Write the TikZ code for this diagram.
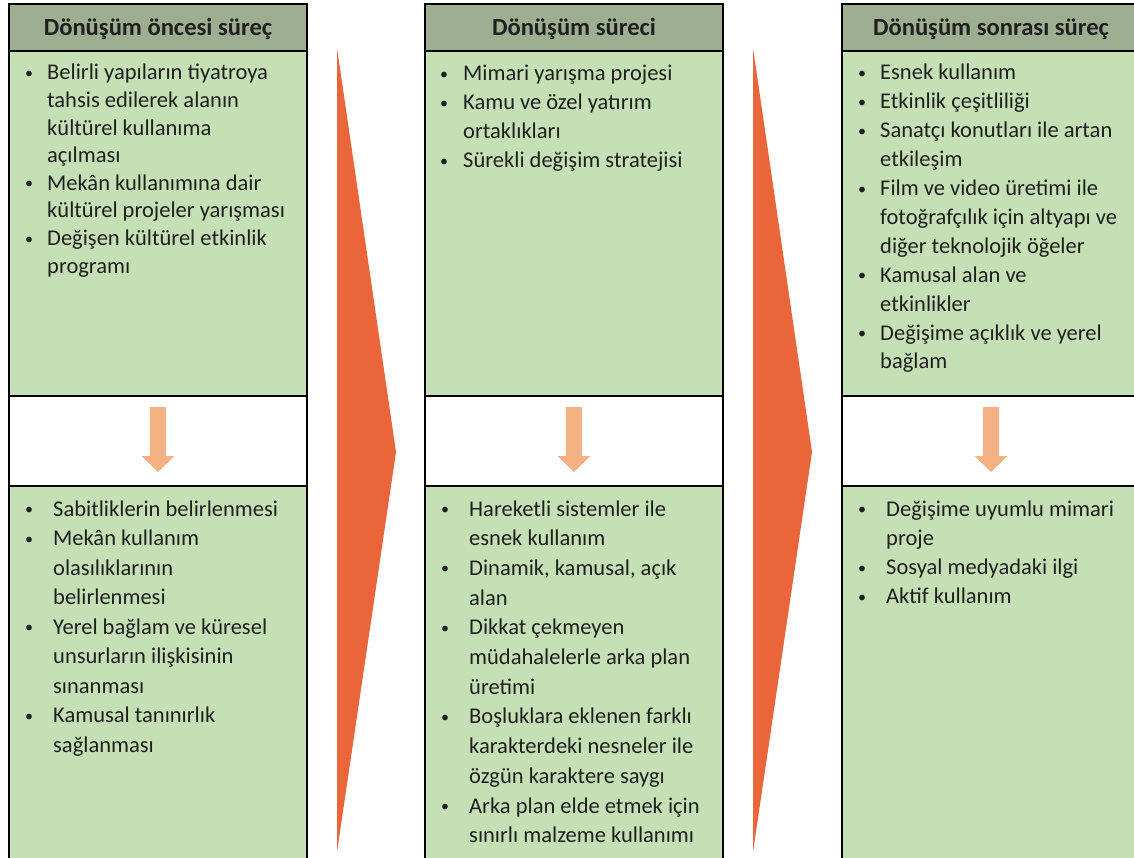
\documentclass[tikz,border=0pt]{standalone}
\usepackage{fontspec}
\setmainfont{Carlito}
\usetikzlibrary{positioning}
\definecolor{headgreen}{HTML}{9EAF91}
\definecolor{bodygreen}{HTML}{C5E0B4}
\definecolor{bigorange}{HTML}{EA653A}
\definecolor{lightorange}{HTML}{F4B183}
\newcommand{\bul}{\raisebox{1.5pt}{\fontsize{16}{16}\selectfont\textbullet}}
\tikzset{boxline/.style = {draw=black, line width=2pt},
         headtext/.style = {anchor=base, font=\fontsize{24.6}{28}\selectfont\bfseries},
         listtext/.style = {anchor=base west, align=left}}

\begin{document}
\begin{tikzpicture}[x=1pt, y=-1pt, every node/.style={inner sep=0pt, text=black!88}]
      \useasboundingbox (0,0) rectangle (1134,858);
      \clip (0,0) rectangle (1134,858);
      % three columns
      \foreach \x in {9, 425, 842} {
        \draw [boxline, fill=headgreen] (\x, 4.5) rectangle ++(298, 46.5);
        \draw [boxline, fill=bodygreen] (\x, 51) rectangle ++(298, 345);
        \draw [boxline, fill=white] (\x, 396) rectangle ++(298, 90);
        \draw [boxline, fill=bodygreen] (\x, 486) rectangle ++(298, 400);
        \fill [lightorange] (\x+141, 407) -- (\x+157, 407) -- (\x+157, 456) -- (\x+165.5, 456)
              -- (\x+149, 472) -- (\x+132.5, 456) -- (\x+141, 456) -- cycle;
      }
      % big chevrons
      \fill [bigorange] (337, 48) -- (396, 452) -- (337, 852) -- cycle;
      \fill [bigorange] (753, 48) -- (812, 452) -- (753, 852) -- cycle;
      % headers
      \node [headtext] (hdpre) at (158, 36) {Dönüşüm öncesi süreç};
      \node [headtext] (hdmid) at (574, 36) {Dönüşüm süreci};
      \node [headtext] (hdpost) at (991, 36) {Dönüşüm sonrası süreç};
      % upper lists
      \node [listtext, font=\fontsize{22.5}{27.6}\selectfont] (prea) at (25, 80) {%
        \begin{tabular}[t]{@{}p{22pt}@{}l@{}}
          \bul & Belirli yapıların tiyatroya\\
               & tahsis edilerek alanın\\
               & kültürel kullanıma\\
               & açılması\\
          \bul & Mekân kullanımına dair\\
               & kültürel projeler yarışması\\
          \bul & Değişen kültürel etkinlik\\
               & programı
        \end{tabular}};
      \node [listtext, font=\fontsize{22.5}{29.1}\selectfont] (mida) at (440, 80.7) {%
        \begin{tabular}[t]{@{}p{23pt}@{}l@{}}
          \bul & Mimari yarışma projesi\\
          \bul & Kamu ve özel yatırım\\
               & ortaklıkları\\
          \bul & Sürekli değişim stratejisi
        \end{tabular}};
      \node [listtext, font=\fontsize{22.5}{28.9}\selectfont] (posta) at (858, 80) {%
        \begin{tabular}[t]{@{}p{22pt}@{}l@{}}
          \bul & Esnek kullanım\\
          \bul & Etkinlik çeşitliliği\\
          \bul & Sanatçı konutları ile artan\\
               & etkileşim\\
          \bul & Film ve video üretimi ile\\
               & fotoğrafçılık için altyapı ve\\
               & diğer teknolojik öğeler\\
          \bul & Kamusal alan ve\\
               & etkinlikler\\
          \bul & Değişime açıklık ve yerel\\
               & bağlam
        \end{tabular}};
      % lower lists
      \node [listtext, font=\fontsize{22.5}{29.5}\selectfont] (preb) at (25, 516) {%
        \begin{tabular}[t]{@{}p{28pt}@{}l@{}}
          \bul & Sabitliklerin belirlenmesi\\
          \bul & Mekân kullanım\\
               & olasılıklarının\\
               & belirlenmesi\\
          \bul & Yerel bağlam ve küresel\\
               & unsurların ilişkisinin\\
               & sınanması\\
          \bul & Kamusal tanınırlık\\
               & sağlanması
        \end{tabular}};
      \node [listtext, font=\fontsize{22.5}{29.7}\selectfont] (midb) at (441, 516) {%
        \begin{tabular}[t]{@{}p{28pt}@{}l@{}}
          \bul & Hareketli sistemler ile\\
               & esnek kullanım\\
          \bul & Dinamik, kamusal, açık\\
               & alan\\
          \bul & Dikkat çekmeyen\\
               & müdahalelerle arka plan\\
               & üretimi\\
          \bul & Boşluklara eklenen farklı\\
               & karakterdeki nesneler ile\\
               & özgün karaktere saygı\\
          \bul & Arka plan elde etmek için\\
               & sınırlı malzeme kullanımı
        \end{tabular}};
      \node [listtext, font=\fontsize{22.5}{29.3}\selectfont] (postb) at (858, 516) {%
        \begin{tabular}[t]{@{}p{28pt}@{}l@{}}
          \bul & Değişime uyumlu mimari\\
               & proje\\
          \bul & Sosyal medyadaki ilgi\\
          \bul & Aktif kullanım
        \end{tabular}};
    \end{tikzpicture}
\end{document}
